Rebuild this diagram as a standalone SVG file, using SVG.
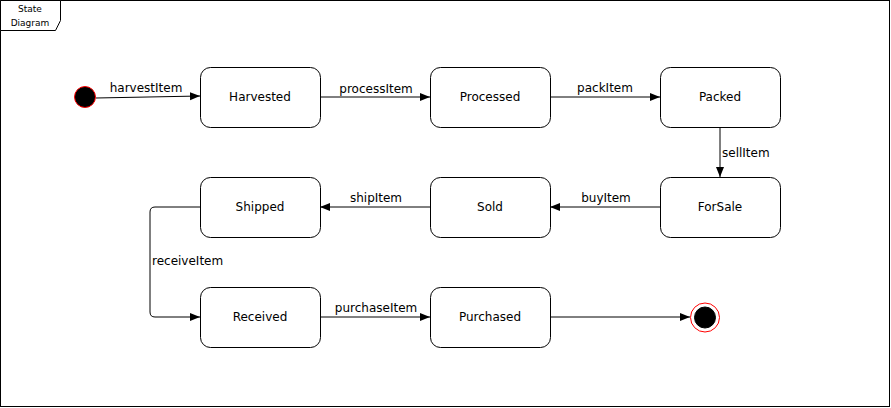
<svg xmlns="http://www.w3.org/2000/svg" width="891" height="408" viewBox="0 0 891 408">
<style>
.st{fill:#fff;stroke:#000;stroke-width:1}
.t{font-family:"DejaVu Sans",Verdana,sans-serif;font-size:12px;fill:#000;text-anchor:middle;dominant-baseline:central}
.l{font-family:"DejaVu Sans",Verdana,sans-serif;font-size:12px;fill:#000}
.e{fill:none;stroke:#000;stroke-width:1}
.f{font-family:"DejaVu Sans",Verdana,sans-serif;font-size:9px;fill:#000;text-anchor:middle}
</style>
<defs>
<marker id="a" viewBox="0 0 10 10" refX="10" refY="5" markerWidth="10" markerHeight="10" markerUnits="userSpaceOnUse" orient="auto">
<path d="M0,1 L10,5 L0,9 Z" fill="#000"/>
</marker>
</defs>
<rect x="0.5" y="0.5" width="889" height="406" fill="#fff" stroke="#000"/>
<g id="frame-label">
<path d="M0.5,0.5 H60.5 V20.5 L55.5,30.5 H0.5 Z" fill="#fff" stroke="#000"/>
<text class="f" x="30" y="12">State</text>
<text class="f" x="30" y="26">Diagram</text>
</g>
<g id="connectors">
<path class="e" d="M96,98 L200,96" marker-end="url(#a)"/>
<text class="l" x="146" y="92" text-anchor="middle">harvestItem</text>
<path class="e" d="M320,97 L430,97" marker-end="url(#a)"/>
<text class="l" x="376" y="93" text-anchor="middle">processItem</text>
<path class="e" d="M550,97 L660,97" marker-end="url(#a)"/>
<text class="l" x="605" y="92" text-anchor="middle">packItem</text>
<path class="e" d="M720,127 L720,177" marker-end="url(#a)"/>
<text class="l" x="722" y="157">sellItem</text>
<path class="e" d="M660,207 L550,207" marker-end="url(#a)"/>
<text class="l" x="606" y="202" text-anchor="middle">buyItem</text>
<path class="e" d="M430,207 L320,207" marker-end="url(#a)"/>
<text class="l" x="376" y="202" text-anchor="middle">shipItem</text>
<path class="e" d="M200,207 H155 Q150,207 150,212 V312 Q150,317 155,317 H200" marker-end="url(#a)"/>
<rect x="151" y="254" width="74" height="14" fill="#fff"/>
<text class="l" x="152" y="265">receiveItem</text>
<path class="e" d="M320,317 L430,317" marker-end="url(#a)"/>
<text class="l" x="376" y="312" text-anchor="middle">purchaseItem</text>
<path class="e" d="M550,317 L690,317" marker-end="url(#a)"/>
</g>
<g id="start">
<circle cx="85" cy="97" r="10.5" fill="#000" stroke="#ff0000"/>
</g>
<g id="harvested"><rect class="st" x="200.5" y="67.5" width="120" height="60" rx="10"/><text class="t" x="260" y="97">Harvested</text></g>
<g id="processed"><rect class="st" x="430.5" y="67.5" width="120" height="60" rx="10"/><text class="t" x="490" y="97">Processed</text></g>
<g id="packed"><rect class="st" x="660.5" y="67.5" width="120" height="60" rx="10"/><text class="t" x="720" y="97">Packed</text></g>
<g id="forsale"><rect class="st" x="660.5" y="177.5" width="120" height="60" rx="10"/><text class="t" x="720" y="207">ForSale</text></g>
<g id="sold"><rect class="st" x="430.5" y="177.5" width="120" height="60" rx="10"/><text class="t" x="490" y="207">Sold</text></g>
<g id="shipped"><rect class="st" x="200.5" y="177.5" width="120" height="60" rx="10"/><text class="t" x="260" y="207">Shipped</text></g>
<g id="received"><rect class="st" x="200.5" y="287.5" width="120" height="60" rx="10"/><text class="t" x="260" y="317">Received</text></g>
<g id="purchased"><rect class="st" x="430.5" y="287.5" width="120" height="60" rx="10"/><text class="t" x="490" y="317">Purchased</text></g>
<g id="end">
<circle cx="705" cy="317.5" r="14.5" fill="#fff" stroke="#ff0000"/>
<circle cx="705" cy="317.5" r="10.5" fill="#000" stroke="#000"/>
</g>
</svg>
